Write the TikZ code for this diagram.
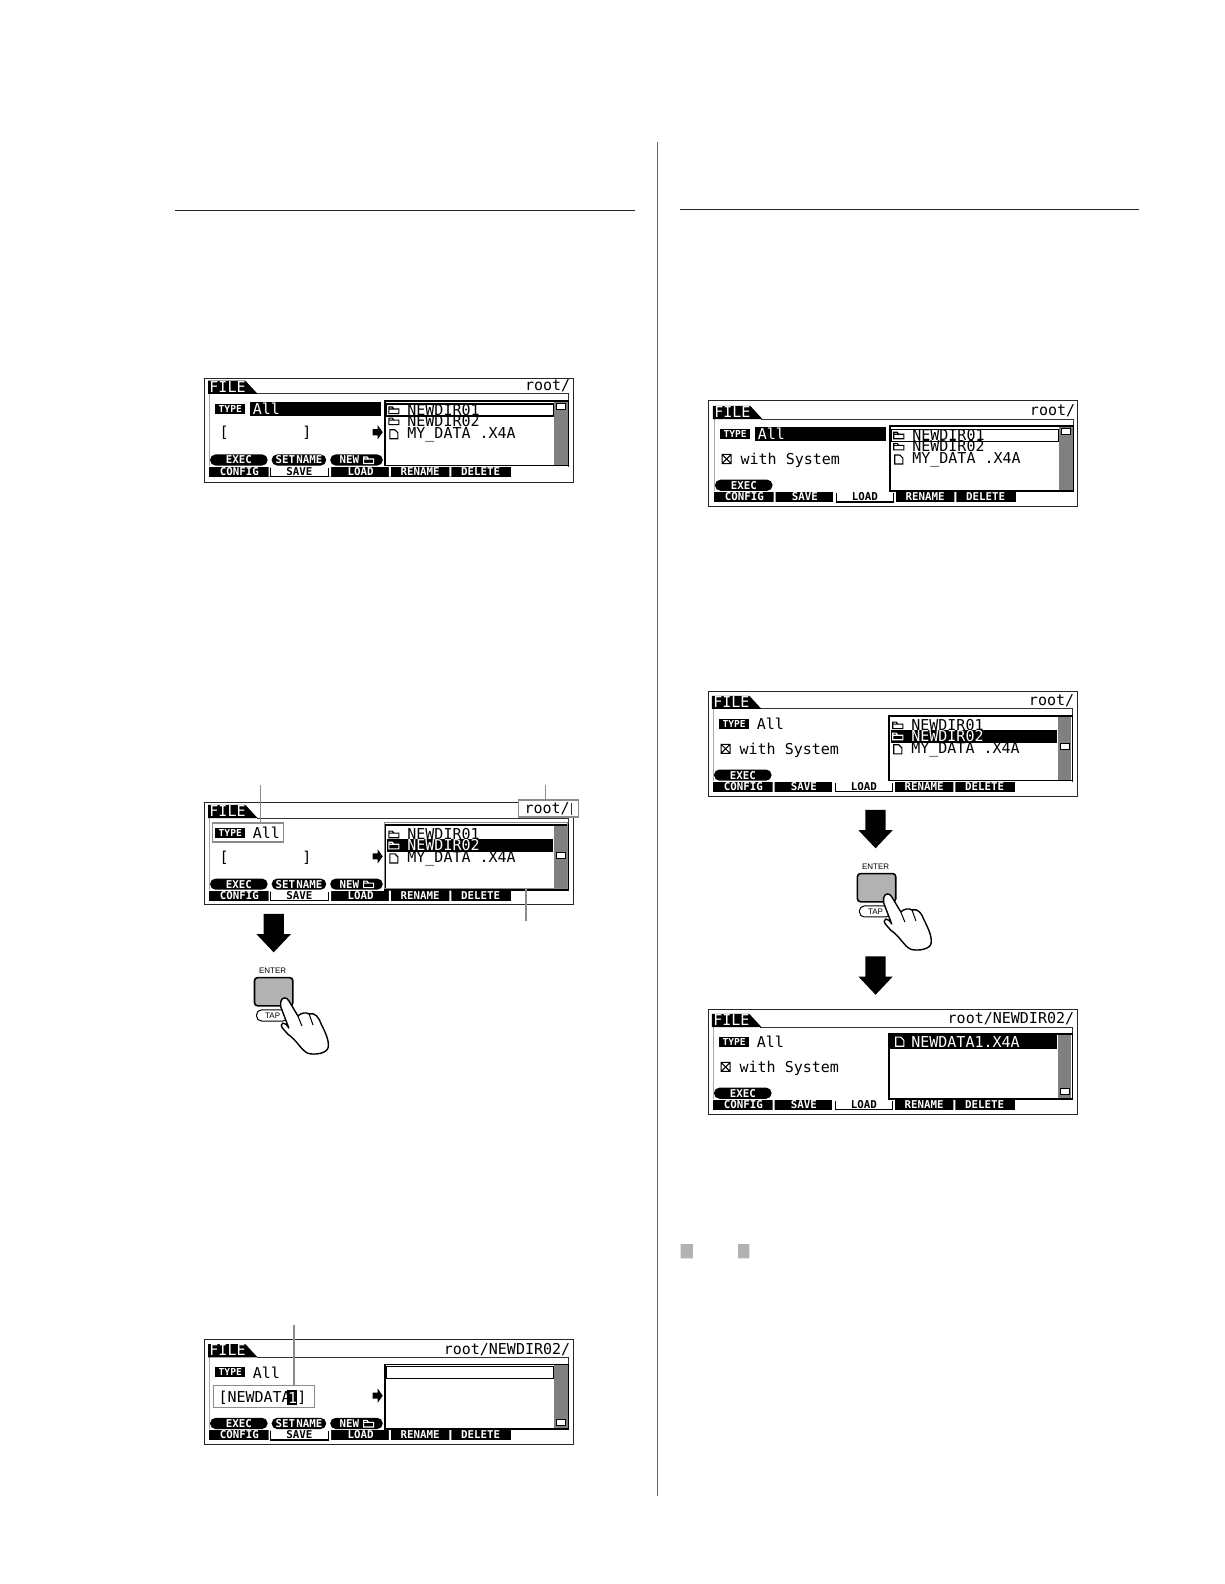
\documentclass[tikz,border=0pt]{standalone}
\usepackage{fontspec}
\setmainfont{Liberation Sans}
\newfontfamily\lcdfont{DejaVu Sans Mono}
\newcommand{\lcdbold}{\lcdfont\bfseries}
\newcount\nid
\newcommand{\lcdtext}[4][black]{% colour, x, y, text
  \global\advance\nid by 1
  \node[lcdstr,text=#1] (s\the\nid) at ({#2},{#3}) {#4};}
\newcommand{\tabtext}[4][white]{%
  \global\advance\nid by 1
  \node[menustr,text=#1] (s\the\nid) at ({#2},{#3}) {#4};}
\newcommand{\folder}[3][black]{\draw[#1,line width=.55pt,fill=none] (#2,#3+3.5) -- ++(0,-6.5) -- ++(3.5,0) -- ++(1.5,2) -- ++(5,0) -- ++(0,4.5) -- cycle (#2,#3-1) -- ++(10,0);}
\newcommand{\fileicon}[3][black]{\draw[#1,line width=.55pt] (#2+1,#3+4) -- ++(0,-9) -- ++(5,0) -- ++(3,3) -- ++(0,6) -- cycle;}
\newcommand{\lcdframe}[4]{\draw[framel] (#1,#2) rectangle (#3,#4);}
\newcommand{\lcdbase}[1]{%
  \draw[inner] (52,15) -- (361,15) -- (361,87);
  \draw[draw=black!35,line width=.4pt] (5,15) -- (5,86);
  \fill[black] (4,2) -- (41,2) -- (53,15) -- (4,15) -- cycle;
  \global\advance\nid by 1
  \node[lcdstr,text=white] (s\the\nid) at (5,8) {FILE};
  \global\advance\nid by 1
  \node[lcdstr,anchor=east] (s\the\nid) at (363,7) {#1};
  \fill[black] (11,25) rectangle (41,35);
  \global\advance\nid by 1
  \node[menustr,text=white,font=\lcdbold\fontsize{4.8}{5}\selectfont] (s\the\nid) at (26,30) {TYPE};}
\newcommand{\listbox}[1]{%
  \draw[draw=black,line width=.8pt] (179,22) rectangle (361,86);
  \fill[barc] (347,23) rectangle (360,85.5);
  \fill[white,draw=black,line width=.3pt] (349,#1) rectangle (358,#1+6);}
\newcommand{\softkey}[3]{\fill[black,rounded corners=2.7pt] (#1,75) rectangle (#2,86);
  \tabtext{(#1+#2)/2}{80.5}{#3}}
\newcommand{\softkeys}{%
  \softkey{6}{63}{EXEC}\softkey{67}{121}{SET\hspace{.6pt}NAME}\fill[black,rounded corners=2.7pt] (125,75) rectangle (177,86);
  \tabtext{144}{80.5}{NEW}
  \folder[white]{158}{80.5}}
\newcommand{\tabsrow}[1]{%
  \fill[black] (5,87) rectangle (304,97);
  \fill[white] (64,87) rectangle (66,97) (123,87) rectangle (126,97) (183,87) rectangle (185,97) (243,87) rectangle (245,97);
  \tabtext{35}{92}{CONFIG}\tabtext{95}{92}{SAVE}\tabtext{155}{92}{LOAD}\tabtext{214}{92}{RENAME}\tabtext{274}{92}{DELETE}
  #1}
\newcommand{\sel}[3]{\fill[white] (#1,87) rectangle (#2,96);\draw[black,line width=.6pt] (#1,88) -- (#1,97) -- (#2,97) -- (#2,88);\tabtext[black]{(#1+#2)/2}{92}{#3}}
\newcommand{\arrowicon}{\fill[black] (167,50) -- (172,50) -- (172,46) -- (177,53) -- (172,60) -- (172,56) -- (167,56) -- cycle;}
\newcommand{\bigarrow}[2]{\fill[black] (#1-10,#2) -- (#1+10,#2) -- (#1+10,#2+20) -- (#1+17,#2+20) -- (#1,#2+38) -- (#1-17,#2+20) -- (#1-10,#2+20) -- cycle;}
\newcommand{\pressbutton}[1]{%
  \begin{scope}[shift={(#1)}]
  \global\advance\nid by 1
  \node[font=\fontsize{4}{4.5}\selectfont,inner sep=0pt] (s\the\nid) at (270,961) {ENTER};
  \fill[btn,draw=black,line width=.8pt,rounded corners=1.6pt] (252,968) rectangle (290,996);
  \draw[black,line width=.5pt,fill=white,rounded corners=2.5pt] (254,1000) rectangle (285,1011);
  \global\advance\nid by 1
  \node[font=\fontsize{4}{4.5}\selectfont,inner sep=0pt] (s\the\nid) at (270,1005.5) {TAP};
  \draw[black,line width=.7pt,fill=white,line join=round] (278,992) .. controls (279,987) and (284,987) .. (286,991)
    -- (295,1006) .. controls (298,1003) and (303,1002) .. (306,1004)
    .. controls (312,1002) and (316,1008) .. (318,1014)
    .. controls (322,1022) and (326,1030) .. (325,1037)
    .. controls (324,1043) and (312,1045) .. (305,1043)
    .. controls (298,1040) and (295,1031) .. (285,1024)
    .. controls (281,1019) and (276,1016) .. (280,1013)
    .. controls (283,1013) and (284,1015) .. (286,1018)
    -- (278,997) -- cycle;
  \draw[black,line width=.5pt] (295,1006) -- (299,1016) (306,1004) -- (310,1015);
  \end{scope}}
\tikzset{
  lcdstr/.style={font=\lcdfont\fontsize{7.5}{8}\selectfont,inner sep=0pt,anchor=west},
  menustr/.style={font=\lcdbold\fontsize{5.4}{6}\selectfont,inner sep=0pt,anchor=center},
  framel/.style={draw=black!85,line width=.5pt},
  inner/.style={draw=black!80,line width=.5pt},
  callout/.style={draw=black!45,line width=.8pt},
  callbox/.style={draw=black!45,line width=.8pt,fill=none,inner sep=0pt},
  rulel/.style={draw=black!85,line width=.5pt},
  barc/.style={fill=black!50},
  btn/.style={fill=black!30}
}
\begin{document}
\begin{tikzpicture}[x=.505pt,y=-.505pt]
\useasboundingbox (0,0) rectangle (1212.1,1568.5);
\fill[white] (0,0) rectangle (1212.1,1568.5);
% page rules
\draw[rulel] (173,208) -- (629,208);
\draw[rulel] (673,207) -- (1128,207);
\draw[draw=black!60,line width=.7pt] (651,141) -- (651,1481);
\fill[black!30] (674,1232) rectangle (686,1246) (731,1232) rectangle (742,1246);

% ---------- screen A
\lcdframe{202.5}{375}{568}{478}
\begin{scope}[shift={(202,375)}]
\lcdbase{root/}
\fill[black] (46,23) rectangle (175,37);
\lcdtext[white]{48}{30}{All}
\lcdtext{15}{54}{[}\lcdtext{97}{54}{]}
\softkeys\arrowicon
\listbox{24}
\draw[black,line width=.6pt] (181,25) rectangle (346,37);
\folder{183}{31}\folder{183}{42}\fileicon{183}{55.5}
\lcdtext{201}{31}{NEWDIR01}\lcdtext{201}{42}{NEWDIR02}\lcdtext{201}{55.5}{MY\_DATA .X4A}
\tabsrow{\sel{66}{123}{SAVE}}
\end{scope}

% ---------- screen B
\lcdframe{202.5}{795}{568}{896}
\begin{scope}[shift={(202,795)}]
\lcdbase{root/}
\lcdtext{48}{30}{All}
\lcdtext{15}{54}{[}\lcdtext{97}{54}{]}
\softkeys\arrowicon
\listbox{49}
\fill[black] (181,35.5) rectangle (346,48.5);
\folder{183}{31}\folder[white]{183}{42}\fileicon{183}{55.5}
\lcdtext{201}{31}{NEWDIR01}\lcdtext[white]{201}{42}{NEWDIR02}\lcdtext{201}{55.5}{MY\_DATA .X4A}
\tabsrow{\sel{66}{123}{SAVE}}
\end{scope}
\node[callbox,minimum width=35.5pt,minimum height=9.5pt] (typebox) at (245.5,824.5) {};
\node[callbox,fill=white,minimum width=30pt,minimum height=8.5pt] (rootbox) at (543,800.5) {};
\node[lcdstr] (rootlabel) at (519,801) {root/};
\draw[inner] (566,795) -- (566,807);
\node[callbox,minimum width=91.5pt,minimum height=33pt] (listcall) at (471.5,847) {};
\coordinate (c1) at (258,777);
\coordinate (c2) at (540,777);
\coordinate (c3) at (521,912);
\draw[callout] (c1) -- (c1 |- typebox.north);
\draw[callout] (c2) -- (c2 |- rootbox.north);
\draw[callout] (c3) -- (c3 |- listcall.south);

% ---------- screen C
\lcdframe{202.5}{1326}{568}{1430}
\begin{scope}[shift={(202,1329)}]
\lcdbase{root/NEWDIR02/}
\lcdtext{48}{30}{All}
\softkeys\arrowicon
\listbox{76}
\draw[black,line width=.8pt] (180,24) rectangle (346,36);
\fill[black] (82.5,47) rectangle (92.5,62);
\lcdtext{14}{55}{[NEWDATA}\lcdtext[white]{83}{55}{1}\lcdtext{92}{55}{]}
\tabsrow{\sel{66}{123}{SAVE}}
\end{scope}
\node[callbox,minimum width=50.5pt,minimum height=11pt] (namebox) at (261.5,1383) {};
\coordinate (c4) at (291,1312);
\draw[callout] (c4) -- (c4 |- namebox.north);

% ---------- arrows and buttons, left
\bigarrow{271}{905}
\pressbutton{0,0}

% ---------- screen D
\lcdframe{701.5}{397}{1067}{502}
\begin{scope}[shift={(702,400)}]
\lcdbase{root/}
\fill[black] (46,23) rectangle (175,37);
\lcdtext[white]{48}{30}{All}
\fill[black,rounded corners=2.7pt] (6,75) rectangle (63,86);\tabtext{34.5}{80.5}{EXEC}
\draw[black,line width=.5pt] (13,50) rectangle (22,59) (13,50) -- (22,59) (22,50) -- (13,59);
\lcdtext{31}{56}{with System}
\listbox{24}
\draw[black,line width=.6pt] (181,25) rectangle (346,37);
\folder{183}{31}\folder{183}{42}\fileicon{183}{55.5}
\lcdtext{201}{31}{NEWDIR01}\lcdtext{201}{42}{NEWDIR02}\lcdtext{201}{55.5}{MY\_DATA .X4A}
\tabsrow{\sel{126}{183}{LOAD}}
\end{scope}

% ---------- screen E
\lcdframe{701.5}{685}{1067}{789}
\begin{scope}[shift={(701,687)}]
\lcdbase{root/}
\lcdtext{48}{30}{All}
\fill[black,rounded corners=2.7pt] (6,75) rectangle (63,86);\tabtext{34.5}{80.5}{EXEC}
\draw[black,line width=.5pt] (13,50) rectangle (22,59) (13,50) -- (22,59) (22,50) -- (13,59);
\lcdtext{31}{56}{with System}
\listbox{49}
\fill[black] (181,35.5) rectangle (346,48.5);
\folder{183}{31}\folder[white]{183}{42}\fileicon{183}{55.5}
\lcdtext{201}{31}{NEWDIR01}\lcdtext[white]{201}{42}{NEWDIR02}\lcdtext{201}{55.5}{MY\_DATA .X4A}
\tabsrow{\sel{126}{183}{LOAD}}
\end{scope}

% ---------- screen F
\lcdframe{701.5}{1000}{1067}{1104}
\begin{scope}[shift={(701,1002)}]
\lcdbase{root/NEWDIR02/}
\lcdtext{48}{30}{All}
\fill[black,rounded corners=2.7pt] (6,75) rectangle (63,86);\tabtext{34.5}{80.5}{EXEC}
\draw[black,line width=.5pt] (13,50) rectangle (22,59) (13,50) -- (22,59) (22,50) -- (13,59);
\lcdtext{31}{56}{with System}
\listbox{76}
\fill[black] (180,23) rectangle (346,37);
\fileicon[white]{185}{30}
\lcdtext[white]{201}{30}{NEWDATA1.X4A}
\tabsrow{\sel{126}{183}{LOAD}}
\end{scope}

% ---------- arrows and button, right
\bigarrow{867}{802}
\pressbutton{597,-103}
\bigarrow{867}{947}
\end{tikzpicture}
\end{document}
